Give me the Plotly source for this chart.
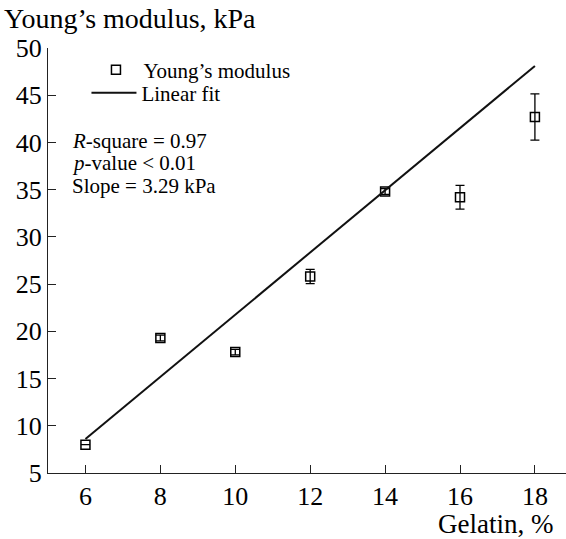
import plotly.graph_objects as go

# Data
gelatin = [6, 8, 10, 12, 14, 16, 18]
modulus = [8.0, 19.3, 17.8, 25.8, 34.8, 34.2, 42.7]
modulus_err = [0.0, 0.3, 0.3, 0.75, 0.3, 1.25, 2.45]
fit_x = [6, 18]
fit_y = [8.6, 48.1]
x_ticks = [6, 8, 10, 12, 14, 16, 18]
y_ticks = [5, 10, 15, 20, 25, 30, 35, 40, 45, 50]

W, H = 566, 539
L, R, T, B = 47.5, 0, 48, 66
pw, ph = W - L - R, H - T - B

def px(x):
    return (x - L) / pw

def py(y):
    return (H - B - y) / ph

FONT = "Liberation Serif, Times New Roman, serif"

fig = go.Figure()
fig.add_trace(go.Scatter(
    x=gelatin, y=modulus, mode="markers", name="Young\u2019s modulus", legend="legend",
    marker=dict(symbol="square-open", size=9, color="black", line=dict(width=1.5, color="black")),
    error_y=dict(type="data", array=modulus_err, visible=True, color="black", thickness=1.3, width=4.5),
))
fig.add_trace(go.Scatter(
    x=fit_x, y=fit_y, mode="lines", name="Linear fit", legend="legend2",
    line=dict(color="#111111", width=2),
))

axis_common = dict(
    showline=True, linecolor="#222222", linewidth=1.3,
    ticks="inside", ticklen=8, tickwidth=1.3, tickcolor="#222222",
    showgrid=False, zeroline=False,
    tickfont=dict(family=FONT, size=26, color="black"),
)
fig.update_xaxes(range=[5, 18.83], tickvals=x_ticks, **axis_common)
fig.update_yaxes(range=[5, 50], tickvals=y_ticks, **axis_common)

ann = [
    dict(text="Young\u2019s modulus, kPa", x=px(1), y=py(18), xanchor="left", yanchor="middle", size=28),
    dict(text="Gelatin, %", x=px(555), y=py(524), xanchor="right", yanchor="middle", size=27),
    dict(text="<i>R</i>-square = 0.97", x=px(70), y=py(141), xanchor="left", yanchor="middle", size=21),
    dict(text="<i>p</i>-value &lt; 0.01", x=px(70), y=py(163), xanchor="left", yanchor="middle", size=21),
    dict(text="Slope = 3.29 kPa", x=px(70), y=py(186), xanchor="left", yanchor="middle", size=21),
]
annotations = []
for a in ann:
    annotations.append(dict(
        text=a["text"], x=a["x"], y=a["y"], xref="paper", yref="paper",
        xanchor=a["xanchor"], yanchor=a["yanchor"], showarrow=False,
        font=dict(family=FONT, size=a["size"], color="black"),
    ))

leg_common = dict(
    xanchor="left", yanchor="middle",
    bgcolor="rgba(0,0,0,0)", font=dict(family=FONT, size=21, color="black"),
    itemwidth=45,
)
fig.update_layout(
    width=W, height=H,
    margin=dict(l=L, r=R, t=T, b=B),
    paper_bgcolor="white", plot_bgcolor="white",
    annotations=annotations,
    showlegend=True,
    legend=dict(x=px(88), y=py(70), **leg_common),
    legend2=dict(x=px(86), y=py(93), **leg_common),
)

fig.write_html("out.html")
